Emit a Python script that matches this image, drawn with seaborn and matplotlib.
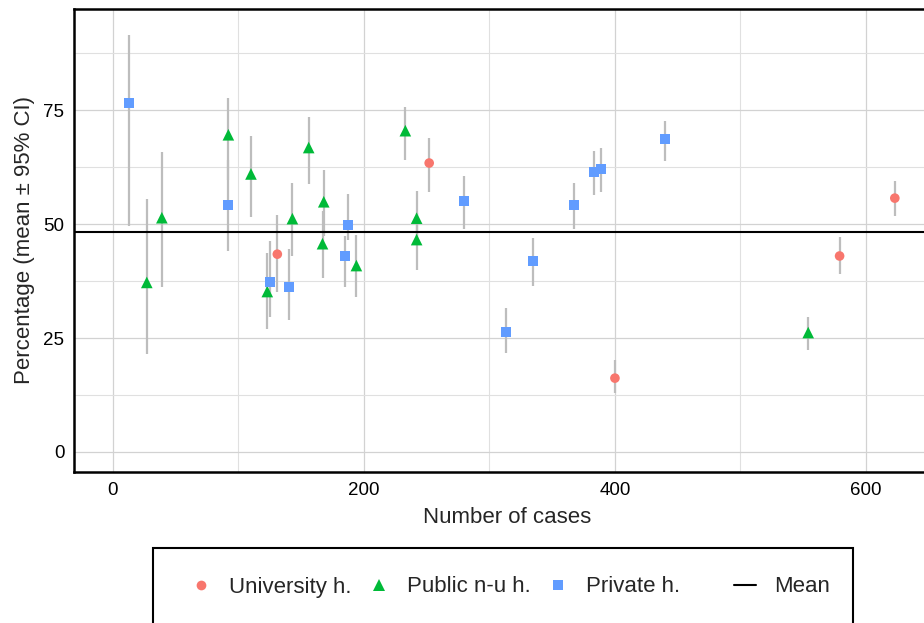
import pandas as pd
import matplotlib
matplotlib.use("Agg")
import matplotlib.pyplot as plt
import seaborn as sns
from matplotlib.lines import Line2D
from matplotlib.patches import Rectangle
from matplotlib.ticker import MultipleLocator

# University hospitals
uni_n = [131, 252, 400, 579, 623]
uni_pct = [43.4, 63.4, 16.2, 43.0, 55.7]
uni_lo = [35.2, 57.1, 12.9, 39.1, 51.8]
uni_hi = [51.9, 69.0, 20.1, 47.1, 59.5]

# Public non-university hospitals
pub_n = [27, 39, 92, 110, 123, 143, 156, 168, 167, 194, 233, 242, 242, 554]
pub_pct = [37.2, 51.4, 69.6, 61.0, 35.2, 51.2, 66.8, 54.9, 45.7, 40.9, 70.5, 51.3, 46.6, 26.2]
pub_lo = [21.6, 36.2, 59.7, 51.5, 27.0, 42.9, 58.8, 47.3, 38.2, 34.1, 64.1, 45.5, 40.0, 22.4]
pub_hi = [55.5, 65.9, 77.6, 69.4, 43.6, 59.0, 73.4, 61.9, 52.8, 47.5, 75.7, 57.3, 52.5, 29.6]

# Private hospitals
priv_n = [13, 92, 125, 140, 187, 185, 280, 313, 335, 367, 383, 389, 440]
priv_pct = [76.6, 54.2, 37.4, 36.3, 49.7, 42.9, 55.0, 26.4, 41.8, 54.1, 61.5, 62.0, 68.6]
priv_lo = [49.6, 44.0, 29.6, 28.9, 46.6, 36.1, 49.0, 21.8, 36.5, 48.9, 56.4, 57.1, 63.9]
priv_hi = [91.5, 64.1, 46.2, 44.5, 56.6, 47.3, 60.6, 31.5, 47.0, 59.1, 66.1, 66.7, 72.6]

mean_pct = 48.3

groups = ["University h.", "Public n-u h.", "Private h."]
colors = {"University h.": "#F8766D", "Public n-u h.": "#00BA38", "Private h.": "#619CFF"}
markers = {"University h.": "o", "Public n-u h.": "^", "Private h.": "s"}
msizes = {"University h.": 48, "Public n-u h.": 70, "Private h.": 52}

df = pd.concat([
    pd.DataFrame({"group": groups[0], "n": uni_n, "pct": uni_pct, "lo": uni_lo, "hi": uni_hi}),
    pd.DataFrame({"group": groups[1], "n": pub_n, "pct": pub_pct, "lo": pub_lo, "hi": pub_hi}),
    pd.DataFrame({"group": groups[2], "n": priv_n, "pct": priv_pct, "lo": priv_lo, "hi": priv_hi}),
], ignore_index=True)

sns.set_style("white")
plt.rcParams["font.family"] = ["Liberation Sans", "DejaVu Sans"]

fig = plt.figure(figsize=(9.24, 6.23), dpi=100)
ax = fig.add_axes([74 / 924, 1 - 472 / 623, 866 / 924, 463 / 623])

# grid
ax.xaxis.set_major_locator(MultipleLocator(200))
ax.xaxis.set_minor_locator(MultipleLocator(100))
ax.yaxis.set_major_locator(MultipleLocator(25))
ax.yaxis.set_minor_locator(MultipleLocator(12.5))
ax.grid(which="major", color="#d2d2d2", linewidth=0.9)
ax.grid(which="minor", color="#e0e0e0", linewidth=0.8)
ax.set_axisbelow(True)

# confidence intervals + overall mean
ax.vlines(df["n"], df["lo"], df["hi"], color="#bdbdbd", linewidth=1.6, zorder=2)
ax.axhline(mean_pct, color="black", linewidth=1.5, zorder=2)

sns.scatterplot(data=df, x="n", y="pct", hue="group", style="group", size="group",
                palette=colors, markers=markers, sizes=msizes, linewidth=0,
                legend=False, ax=ax, zorder=3)

ax.set_xlim(-31, 659)
ax.set_ylim(-4.4, 97.2)
ax.set_xticks([0, 200, 400, 600])
ax.set_yticks([0, 25, 50, 75])
ax.tick_params(which="both", length=0, labelsize=13.5, pad=7, colors="black")
ax.set_xlabel("Number of cases", fontsize=16, labelpad=6)
ax.set_ylabel("Percentage (mean \u00b1 95% CI)", fontsize=16, labelpad=6)

for s in ax.spines.values():
    s.set_color("black")
    s.set_linewidth(1.8)

# legend: groups and mean line as two pieces inside one box
handles = [Line2D([], [], linestyle="", marker=markers[g], color=colors[g],
                  markersize={"o": 7, "^": 8.5, "s": 7}[markers[g]], markeredgewidth=0)
           for g in groups]
fig.legend(handles, groups, loc="center", bbox_to_anchor=(435 / 924, 1 - 587 / 623),
           ncol=3, frameon=False, fontsize=16, handlelength=1.0,
           handletextpad=0.76, columnspacing=0.72)
fig.legend([Line2D([], [], color="black", linewidth=1.5)], ["Mean"], loc="center",
           bbox_to_anchor=(782 / 924, 1 - 587 / 623), frameon=False, fontsize=16,
           handlelength=1.0, handletextpad=0.8)
fig.patches.append(Rectangle((153 / 924, -0.05), 700 / 924, 1 - 548 / 623 + 0.05,
                             transform=fig.transFigure, fill=False,
                             edgecolor="black", linewidth=1.5))

fig.savefig("out.png", dpi=100)
